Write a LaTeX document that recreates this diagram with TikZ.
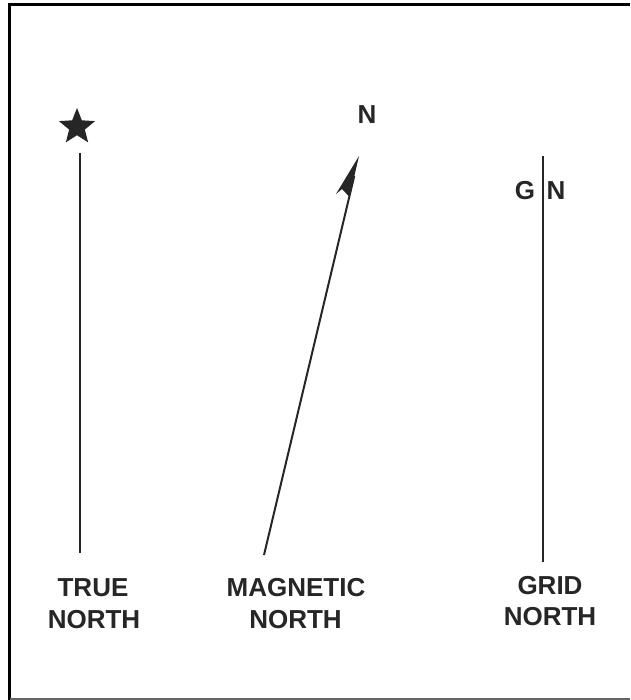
\documentclass[tikz,border=0pt]{standalone}
\usepackage{fontspec}
\setmainfont{Liberation Sans}
\usetikzlibrary{shapes.geometric,calc}
\begin{document}
\begin{tikzpicture}[x=1pt,y=-1pt,
  lbl/.style={font=\fontsize{26}{30}\selectfont\bfseries, inner sep=0pt, anchor=base, text=black!85},
  nline/.style={line width=2pt, draw=black!85},
  starmark/.style={star, star points=5, star point ratio=2.3, fill=black!85, draw=none, minimum size=38pt, inner sep=0pt}]
\useasboundingbox (0,0) rectangle (630,700);
\fill[white] (0,0) rectangle (630,700);
% frame
\draw[line width=3pt, black] (9.5,700) -- (9.5,4.5) -- (630,4.5);
\draw[line width=2pt, black!60] (9.5,698.5) -- (630,698.5);
% true north
\node[starmark] (star) at (77,127) {};
\coordinate (tnTop) at (79.5,153);
\coordinate (tnBot) at (79.5,553);
\draw[nline] (tnTop) -- (tnBot);
\node[lbl] (tn1) at (93,596) {TRUE};
\node[lbl] (tn2) at (94,628) {NORTH};
% magnetic north
\coordinate (mnBot) at (264,555);
\coordinate (mnTip) at (359,156);
\coordinate (mnBarb) at (336,194);
\coordinate (mnNotch) at (342,189);
\coordinate (mnJoin) at (349.5,197);
\draw[nline] (mnBot) -- ($(mnBot)!0.95!(mnTip)$);
\fill[black!85] (mnTip) -- (mnBarb) -- (mnNotch) -- (mnJoin) -- cycle;
\node[lbl] (mnN) at (367,124) {N};
\node[lbl] (mn1) at (296,596) {MAGNETIC};
\node[lbl] (mn2) at (295.5,628) {NORTH};
% grid north
\coordinate (gnTop) at (543,156);
\coordinate (gnBot) at (543,562);
\draw[nline] (gnTop) -- (gnBot);
\node[lbl] (gG) at (525,200) {G};
\node[lbl] (gN) at (556,200) {N};
\node[lbl] (gn1) at (550,594) {GRID};
\node[lbl] (gn2) at (550,625) {NORTH};
\end{tikzpicture}
\end{document}
